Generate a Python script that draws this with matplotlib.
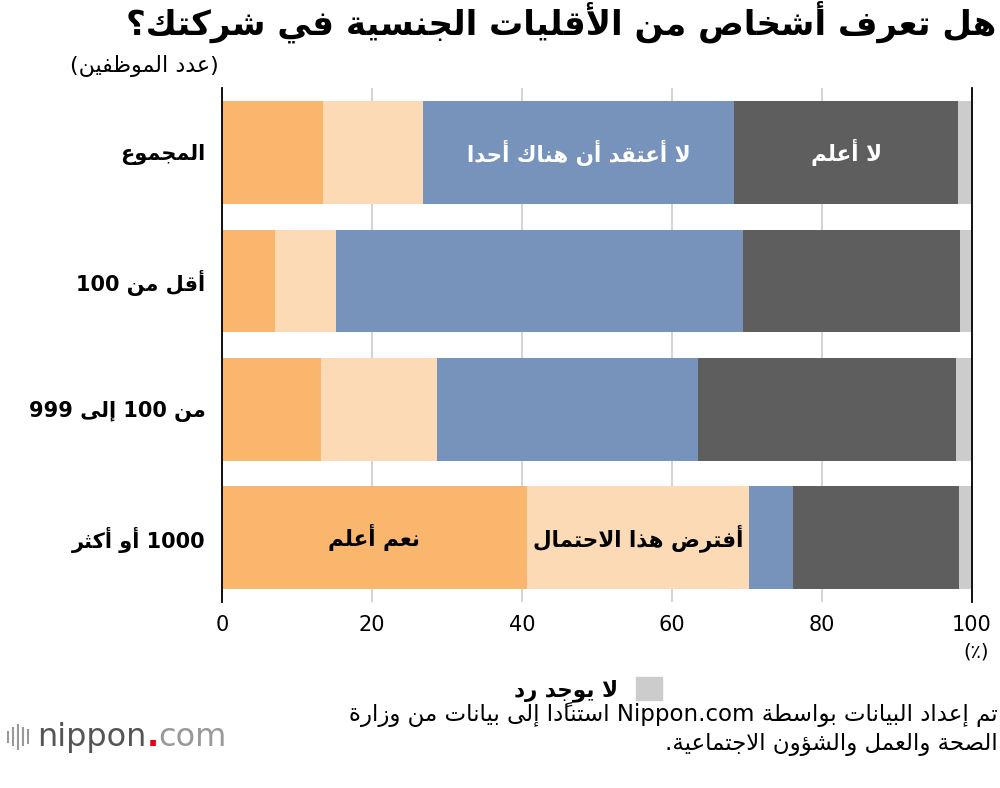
import re
import matplotlib
matplotlib.use("Agg")
import matplotlib.pyplot as plt
from matplotlib.patches import Patch
from matplotlib.lines import Line2D
from matplotlib.offsetbox import TextArea, HPacker, AnnotationBbox

# data (percent of employees)
categories = ["المجموع", "أقل من 100", "من 100 إلى 999", "1000 أو أكثر"]
series_names = ["نعم أعلم", "أفترض هذا الاحتمال", "لا أعتقد أن هناك أحدا", "لا أعلم", "لا يوجد رد"]
know = [13.4, 7.1, 13.2, 40.6]
suppose = [13.4, 8.1, 15.5, 29.7]
dont_think = [41.5, 54.3, 34.8, 5.8]
dont_know = [29.9, 28.9, 34.4, 22.2]
no_answer = [1.8, 1.6, 2.1, 1.7]
xticks = [0, 20, 40, 60, 80, 100]

colors = ["#FAB66C", "#FCDAB5", "#7793BC", "#5E5E5E", "#CCCCCC"]

# --- small arabic shaper: matplotlib does no shaping / bidi by itself
DUAL = {'ئ': 0xFE89, 'ب': 0xFE8F, 'ت': 0xFE95, 'ث': 0xFE99, 'ج': 0xFE9D, 'ح': 0xFEA1,
        'خ': 0xFEA5, 'س': 0xFEB1, 'ش': 0xFEB5, 'ص': 0xFEB9, 'ض': 0xFEBD, 'ط': 0xFEC1,
        'ظ': 0xFEC5, 'ع': 0xFEC9, 'غ': 0xFECD, 'ف': 0xFED1, 'ق': 0xFED5, 'ك': 0xFED9,
        'ل': 0xFEDD, 'م': 0xFEE1, 'ن': 0xFEE5, 'ه': 0xFEE9, 'ي': 0xFEF1}
RIGHT = {'آ': 0xFE81, 'أ': 0xFE83, 'ؤ': 0xFE85, 'إ': 0xFE87, 'ا': 0xFE8D, 'ة': 0xFE93,
         'د': 0xFEA9, 'ذ': 0xFEAB, 'ر': 0xFEAD, 'ز': 0xFEAF, 'و': 0xFEED, 'ى': 0xFEEF,
         '\uFEF5': 0xFEF5, '\uFEF7': 0xFEF7, '\uFEF9': 0xFEF9, '\uFEFB': 0xFEFB}
LIGS = [('لآ', '\uFEF5'), ('لأ', '\uFEF7'), ('لإ', '\uFEF9'), ('لا', '\uFEFB')]
MIRROR = {'(': ')', ')': '('}


def is_mark(c):
    return 0x064B <= ord(c) <= 0x0652 or ord(c) == 0x0670


def shape(s):
    for a, b in LIGS:
        s = s.replace(a, b)
    out = []
    n = len(s)
    for i, c in enumerate(s):
        if c not in DUAL and c not in RIGHT:
            out.append(c)
            continue
        j = i - 1
        while j >= 0 and is_mark(s[j]):
            j -= 1
        k = i + 1
        while k < n and is_mark(s[k]):
            k += 1
        prev = j >= 0 and s[j] in DUAL
        nxt = c in DUAL and k < n and (s[k] in DUAL or s[k] in RIGHT)
        base = DUAL.get(c, RIGHT.get(c))
        off = 3 if (prev and nxt) else 2 if nxt else 1 if prev else 0
        out.append(chr(base + off))
    return ''.join(out)


def ar(s):
    s = shape(s)
    clusters = []
    for t in re.findall(r'[A-Za-z0-9]+(?:\.[A-Za-z0-9]+)*|.', s):
        if len(t) == 1 and is_mark(t) and clusters:
            clusters[-1] += t
        else:
            clusters.append(MIRROR.get(t, t))
    return ''.join(reversed(clusters))


plt.rcParams['font.family'] = ['DejaVu Sans']

fig = plt.figure(figsize=(10, 7.88), dpi=100)
ax = fig.add_axes([0.222, 0.236, 0.75, 0.652])

series = [know, suppose, dont_think, dont_know, no_answer]
rows = list(range(len(categories)))
left = [0.0] * len(categories)
bars = []
for vals, col in zip(series, colors):
    b = ax.barh(rows, vals, left=left, height=0.8, color=col, zorder=2)
    bars.append(b)
    left = [l + v for l, v in zip(left, vals)]

# labels inside bars
starts = [[0.0] * len(categories)]
for vals in series[:-1]:
    starts.append([s + v for s, v in zip(starts[-1], vals)])
inside = [(0, 2, 'white'), (0, 3, 'white'), (3, 0, 'black'), (3, 1, 'black')]
for r, si, tc in inside:
    x = starts[si][r] + series[si][r] / 2
    ax.text(x, r, ar(series_names[si]), ha='center', va='center', color=tc,
            fontsize=15.5, fontweight='bold', zorder=3)

ax.set_xlim(0, 100)
ax.set_ylim(3.5, -0.5)
ax.set_xticks(xticks)
ax.set_xticklabels([str(t) for t in xticks], fontsize=15)
ax.set_yticks(rows)
ax.set_yticklabels([ar(c) for c in categories], fontsize=15, fontweight='bold')
ax.tick_params(axis='y', length=0, pad=12)
ax.tick_params(axis='x', length=0, pad=9)
ax.xaxis.grid(True, color='#cccccc', linewidth=1.2, zorder=0)
ax.set_axisbelow(True)
for side in ['top', 'bottom']:
    ax.spines[side].set_visible(False)
for side in ['left', 'right']:
    ax.spines[side].set_color('black')
    ax.spines[side].set_linewidth(1.3)

fig.text(0.996, 0.972, ar("هل تعرف أشخاص من الأقليات الجنسية في شركتك؟"),
         ha='right', va='center', fontsize=24.5, fontweight='bold')
fig.text(0.219, 0.916, ar("(عدد الموظفين)"), ha='right', va='center', fontsize=16)
fig.text(0.976, 0.172, ar("(٪)"), ha='center', va='center', fontsize=14)

fig.legend(handles=[Patch(color=colors[4])], labels=[ar(series_names[4])],
           markerfirst=False, frameon=False, loc='center', bbox_to_anchor=(0.588, 0.125),
           handlelength=1.2, handleheight=1.2, prop={'weight': 'bold', 'size': 15.5})

fig.text(0.998, 0.093, ar("تم إعداد البيانات بواسطة Nippon.com استنادًا إلى بيانات من وزارة"),
         ha='right', va='center', fontsize=16.5)
fig.text(0.998, 0.055, ar("الصحة والعمل والشؤون الاجتماعية."),
         ha='right', va='center', fontsize=16.5)

# nippon.com logo
for i, h in enumerate([0.012, 0.022, 0.03, 0.022, 0.016]):
    x = 0.008 + i * 0.005
    fig.add_artist(Line2D([x, x], [0.065 - h / 2, 0.065 + h / 2], color='#999999',
                          linewidth=1.5, transform=fig.transFigure))
logo = HPacker(children=[TextArea("nippon", textprops=dict(color='#555555', fontsize=23)),
                         TextArea(".", textprops=dict(color='#e60012', fontsize=23, fontweight='bold')),
                         TextArea("com", textprops=dict(color='#999999', fontsize=23))],
               sep=0, align='baseline', pad=0)
fig.add_artist(AnnotationBbox(logo, (0.037, 0.064), xycoords='figure fraction',
                              box_alignment=(0, 0.5), frameon=False))

fig.savefig("out.png", dpi=100)
